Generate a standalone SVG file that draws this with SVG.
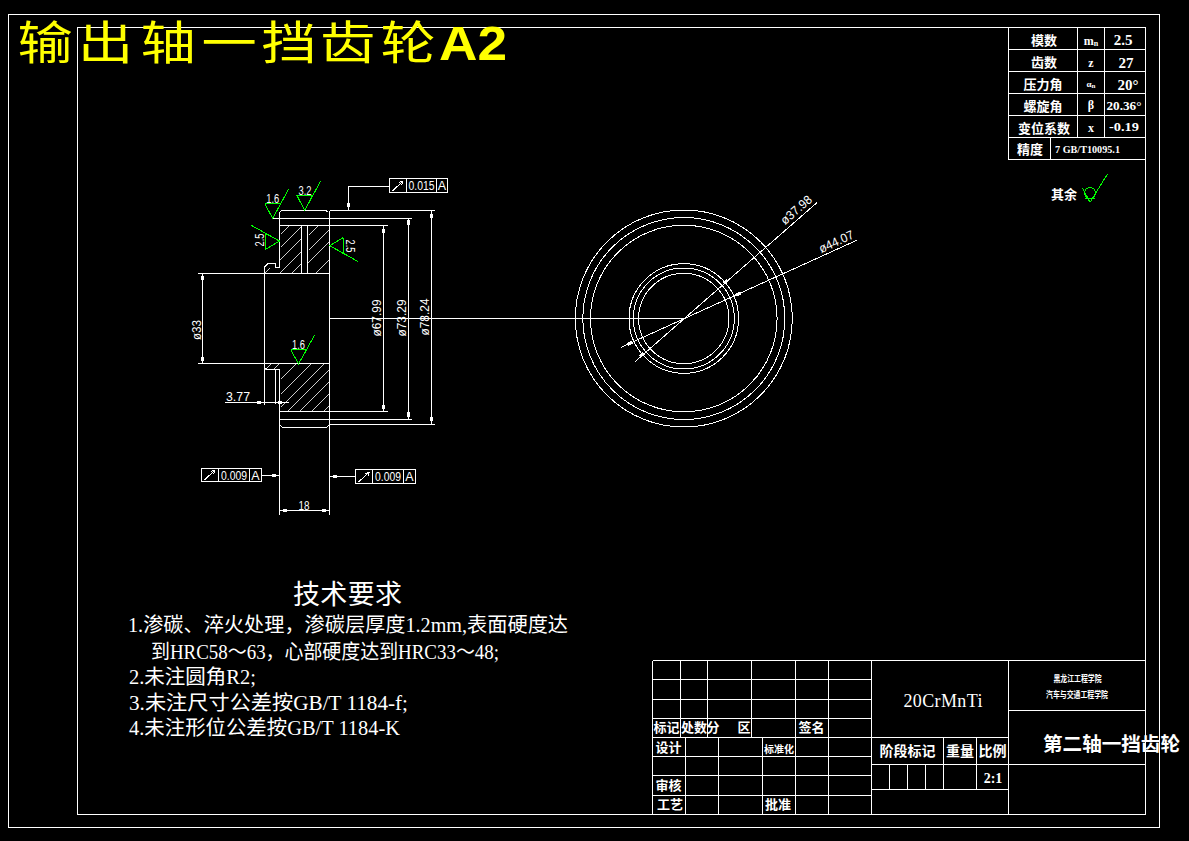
<svg xmlns="http://www.w3.org/2000/svg" width="1189" height="841" viewBox="0 0 1189 841">
<defs>
<style>
.l{stroke:#fff;stroke-width:1;fill:none;shape-rendering:crispEdges}
.h{stroke:#fff;stroke-width:.8;fill:none;shape-rendering:crispEdges}
.g{stroke:#00ff00;stroke-width:1;fill:none;shape-rendering:crispEdges}
.a{fill:#fff;shape-rendering:crispEdges}
text{fill:#fff;font-family:"Liberation Serif","Noto Sans CJK SC",serif}
.c{text-anchor:middle}
.b{font-weight:700}
.d{font-family:"Liberation Sans","Noto Sans CJK SC",sans-serif;font-size:12.5px;text-anchor:middle}
.y{fill:#ffff00}
</style>
<clipPath id="hTopL"><rect x="280" y="225.5" width="21.5" height="48"/></clipPath>
<clipPath id="hTopR"><rect x="307.5" y="225.5" width="21.5" height="48"/></clipPath>
<clipPath id="hBot"><rect x="280" y="363.5" width="49" height="47.5"/></clipPath>
</defs>
<rect width="1189" height="841" fill="#000"/>
<g id="frame">
<rect class="l" x="8.5" y="14.5" width="1151" height="812.5"/>
<rect class="l" x="77.5" y="27.5" width="1068" height="786.5"/>
</g>
<g id="title">
<g transform="translate(0,59) scale(1.2,1)"><text class="y" x="14.5 65 117.2 168 218 266.7 317" y="0" font-size="46" style="font-family:'Noto Sans CJK SC',sans-serif">输出轴一挡齿轮</text></g>
<text class="y" x="439" y="59.5" font-size="48" font-weight="700" textLength="68" lengthAdjust="spacingAndGlyphs" style="font-family:'Liberation Sans',sans-serif">A2</text>
</g>
<g id="section-view">
<path class="l" d="M282 210.5H326L328 212M280 212L282 210.5M329.5 210.5V514.5M279.5 212V267H275V263.5H268L264.5 267V405M272 218.5H412M279.5 225.5H388M301.5 225.5V273.5M307.5 225.5V273.5M198 273.5H329.5M198 363.5H329.5M264.5 363.5V367.5L267 369.5H279.5M275 369.5V404M279.5 369.5V514.5M279.5 411.5H388M279.5 419.5H412M279.5 425L283 427.5H326L329.5 425M329.5 424.5H435M329.5 210.5H435"/>
<g class="h" clip-path="url(#hTopL)"><path d="M280 233.5L288 225.5M280 246.5L301 225.5M280 259.5L301.5 238M280 272.5L301.5 251M291 273.5L301.5 263"/></g>
<g class="h" clip-path="url(#hTopR)"><path d="M307.5 235L317 225.5M307.5 250L329 228.5M307.5 263.5L329 242M314 273.5L329 258.5M327 273.5L329 271.5"/></g>
<g class="h" clip-path="url(#hBot)"><path d="M280 378.5L295 363.5M280 393.5L310 363.5M280 406.5L323 363.5M288 411L329 370M300 411L329 382M312 411L329 394M324 411L329 406"/></g>
<path class="h" d="M264.5 369.5L270 363.5M272 369.5L278 363.5M264.5 273.5L270 268"/>
</g>
<g id="end-view">
<g class="l"><circle cx="683.8" cy="318.5" r="108.5"/><circle cx="683.8" cy="318.5" r="101"/><circle cx="683.8" cy="318.5" r="93.3"/><circle cx="683.8" cy="318.5" r="54.8"/><circle cx="683.8" cy="318.5" r="50.5"/><circle cx="683.8" cy="318.5" r="45.2"/></g>
<path class="l" d="M329.5 318.5H684M635 361.7L817.3 202.3M621 347.3L857.3 240"/>
<g class="a"><rect x="-2.5" y="-1.5" width="5" height="3" transform="translate(725.7 281.7) rotate(-41)"/><rect x="-2.5" y="-1.5" width="5" height="3" transform="translate(641.7 355) rotate(-41)"/><rect x="-3" y="-1.5" width="6" height="3" transform="translate(738.3 294) rotate(-24)"/><rect x="-3" y="-1.5" width="6" height="3" transform="translate(630 343.3) rotate(-24)"/></g>
<text class="d" transform="translate(799 213) rotate(-41)" textLength="37" lengthAdjust="spacingAndGlyphs">ø37.98</text>
<text class="d" transform="translate(838 245.5) rotate(-24.4)" textLength="37" lengthAdjust="spacingAndGlyphs">ø44.07</text>
</g>
<g id="dimensions">
<path class="l" d="M202.5 273.5V363.5M383.5 225.5V411.5M408.5 218.5V419.5M431.5 210.5V424.5M225 402.5H289M279.5 510.5H329.5"/>
<g class="a"><rect x="201" y="276" width="3" height="4"/><rect x="201" y="357" width="3" height="4"/><rect x="382" y="229" width="3" height="4"/><rect x="382" y="405" width="3" height="4"/><rect x="407" y="220" width="3" height="5"/><rect x="407" y="412" width="3" height="5"/><rect x="430" y="214" width="3" height="4"/><rect x="430" y="417" width="3" height="4"/><rect x="257" y="401" width="4" height="3"/><rect x="278" y="401" width="4" height="3"/><rect x="283" y="509" width="4" height="3"/><rect x="322" y="509" width="4" height="3"/></g>
<text class="d" transform="translate(201 330) rotate(-90)" textLength="20" lengthAdjust="spacingAndGlyphs">ø33</text>
<text class="d" transform="translate(381 318) rotate(-90)" textLength="37" lengthAdjust="spacingAndGlyphs">ø67.99</text>
<text class="d" transform="translate(405.5 318) rotate(-90)" textLength="37" lengthAdjust="spacingAndGlyphs">ø73.29</text>
<text class="d" transform="translate(428.5 317) rotate(-90)" textLength="37" lengthAdjust="spacingAndGlyphs">ø78.24</text>
<text class="d" x="238" y="400.5" textLength="24" lengthAdjust="spacingAndGlyphs">3.77</text>
<text class="d" x="304" y="510" textLength="11" lengthAdjust="spacingAndGlyphs">18</text>
</g>
<g id="tolerance-top">
<path class="l" d="M389.5 178.5H447.5V192.5H389.5ZM406.5 178.5V192.5M436.5 178.5V192.5M389.5 186H348.5V210M392.5 191L403 181M403 181L399 182.5M403 181L401.5 185"/>
<rect class="a" x="347" y="203" width="3" height="4"/>
<text class="d" x="421.5" y="190" textLength="26" lengthAdjust="spacingAndGlyphs">0.015</text><text class="d" x="442" y="190">A</text>
</g>
<g id="tolerance-left">
<path class="l" d="M201.5 468.5H261.5V481.5H201.5ZM218.5 468.5V481.5M249.5 468.5V481.5M261.5 475.5H279M204.5 480L215 470M215 470L211 471.5M215 470L213.5 474"/>
<rect class="a" x="272" y="474" width="4" height="3"/>
<text class="d" x="234" y="479.5" textLength="26" lengthAdjust="spacingAndGlyphs">0.009</text><text class="d" x="255.5" y="479.5">A</text>
</g>
<g id="tolerance-right">
<path class="l" d="M355.5 469.5H415.5V483.5H355.5ZM372.5 469.5V483.5M403.5 469.5V483.5M355.5 476.5H329.5M358.5 482L369.5 472M369.5 472L365.5 473.5M369.5 472L368 476"/>
<rect class="a" x="333" y="475" width="4" height="3"/>
<text class="d" x="388" y="481" textLength="26" lengthAdjust="spacingAndGlyphs">0.009</text><text class="d" x="409.5" y="481">A</text>
</g>
<g id="roughness">
<path class="g" d="M264.7 203.5H280.7L272.7 218.5L264.7 203.5M272.7 218.5L288.7 189"/><text class="d" x="272.7" y="202.5" textLength="13" lengthAdjust="spacingAndGlyphs">1.6</text>
<path class="g" d="M296.7 195H312.7L304.7 210.5L296.7 195M304.7 210.5L320.7 181"/><text class="d" x="305" y="194.5" textLength="13" lengthAdjust="spacingAndGlyphs">3.2</text>
<path class="g" d="M265.5 233.5V249.5L279.5 241L265.5 233.5M279.5 241L251.5 225.5"/><text class="d" transform="translate(264 240) rotate(-90)" textLength="13" lengthAdjust="spacingAndGlyphs">2.5</text>
<path class="g" d="M343.5 237.5V253.5L329.7 245.7L343.5 237.5M329.7 245.7L357.7 261.3"/><text class="d" transform="translate(345.5 246) rotate(90)" textLength="13" lengthAdjust="spacingAndGlyphs">2.5</text>
<path class="g" d="M290.7 349.5H306.7L298.5 364L290.7 349.5M298.5 364L314.7 335"/><text class="d" x="298.5" y="349" textLength="13" lengthAdjust="spacingAndGlyphs">1.6</text>
<path class="g" d="M1082.7 188.3L1090 202.3L1107.3 174.3M1085 198.5H1095"/><circle class="g" cx="1090" cy="193" r="5.5"/>
<text class="c b" x="1064" y="199" font-size="13">其余</text>
</g>
<g id="gear-table">
<path class="l" d="M1008.5 27.5H1145.5V159.5H1008.5ZM1008.5 49.5H1145.5M1008.5 71.5H1145.5M1008.5 93.5H1145.5M1008.5 115.5H1145.5M1008.5 137.5H1145.5M1077.5 27.5V137.5M1104.5 27.5V137.5M1050.5 137.5V159.5"/>
<g class="b" font-size="13">
<text class="c" x="1044" y="45">模数</text><text class="c" x="1044" y="67">齿数</text><text class="c" x="1043" y="89">压力角</text><text class="c" x="1043" y="111">螺旋角</text><text class="c" x="1044" y="133">变位系数</text><text class="c" x="1030" y="154">精度</text>
</g>
<g class="b" font-size="12">
<text class="c" x="1091" y="45" font-size="12">m<tspan font-size="8" dy="1">n</tspan></text><text class="c" x="1091" y="67">z</text><text class="c" x="1091" y="87" font-size="9">α<tspan font-size="7" dy="1">n</tspan></text><text class="c" x="1091" y="109">β</text><text class="c" x="1091" y="132">x</text>
<text class="c" x="1123" y="45" font-size="15">2.5</text><text class="c" x="1126" y="68" font-size="15">27</text><text class="c" x="1128" y="90" font-size="15">20°</text><text class="c" x="1124" y="110" font-size="12" textLength="35" lengthAdjust="spacingAndGlyphs">20.36°</text><text class="c" x="1124" y="131" font-size="13" textLength="30" lengthAdjust="spacingAndGlyphs">-0.19</text>
<text x="1055" y="153" font-size="10" textLength="65" lengthAdjust="spacingAndGlyphs">7 GB/T10095.1</text>
</g>
</g>
<g id="tech-notes">
<text class="c" x="347.5" y="604" font-size="27" textLength="109">技术要求</text>
<g font-size="20">
<text x="128" y="632" textLength="440" lengthAdjust="spacingAndGlyphs">1.渗碳、淬火处理，渗碳层厚度1.2mm,表面硬度达</text>
<text x="151" y="659" textLength="348" lengthAdjust="spacingAndGlyphs">到HRC58～63，心部硬度达到HRC33～48;</text>
<text x="129" y="684" textLength="127" lengthAdjust="spacingAndGlyphs">2.未注圆角R2;</text>
<text x="129" y="710" textLength="279" lengthAdjust="spacingAndGlyphs">3.未注尺寸公差按GB/T 1184-f;</text>
<text x="129" y="735" textLength="271" lengthAdjust="spacingAndGlyphs">4.未注形位公差按GB/T 1184-K</text>
</g>
</g>
<g id="title-block">
<path class="l" d="M652.5 660.5H1146M652.5 679.5H871.5M652.5 699.5H871.5M652.5 718.5H871.5M652.5 737.5H1008.5M652.5 756.5H871.5M652.5 775.5H871.5M652.5 795.5H871.5M652.5 814.5H1146M652.5 660.5V814.5M680.5 660.5V737.5M707.5 660.5V737.5M751.5 660.5V737.5M795.5 660.5V814.5M828.5 660.5V814.5M871.5 660.5V814.5M685.5 737.5V814.5M718.5 737.5V814.5M762.5 737.5V814.5M1008.5 660.5V814.5M1008.5 710.5H1146M1008.5 764.5H1146M871.5 764.5H1008.5M871.5 789.5H1008.5M889.5 764.5V789.5M907.5 764.5V789.5M925.5 764.5V789.5M943.5 737.5V789.5M976.5 737.5V789.5"/>
<g class="b" font-size="13">
<text class="c" x="666.5" y="732">标记</text><text class="c" x="694" y="732">处数</text><text class="c" x="713" y="732">分</text><text class="c" x="744" y="732">区</text><text class="c" x="811.5" y="732">签名</text>
<text class="c" x="668.5" y="752">设计</text><text class="c" x="668.5" y="790">审核</text><text class="c" x="670" y="809">工艺</text><text class="c" x="778" y="809">批准</text>
<text class="c" x="779" y="753" font-size="10">标准化</text>
<text class="c" x="907.5" y="756" font-size="14">阶段标记</text><text class="c" x="960" y="756" font-size="14">重量</text><text class="c" x="992.5" y="756" font-size="14">比例</text>
<text class="c" x="993" y="783" font-size="14">2:1</text>
<text class="c" x="1077.5" y="681.5" font-size="9" textLength="48" lengthAdjust="spacingAndGlyphs">黑龙江工程学院</text><text class="c" x="1077" y="697.5" font-size="9" textLength="62" lengthAdjust="spacingAndGlyphs">汽车与交通工程学院</text>
</g>
<text class="c" x="943" y="706.5" font-size="18" textLength="79">20CrMnTi</text>
<text x="1043" y="751" font-size="19.6" textLength="137" class="b">第二轴一挡齿轮</text>
</g>
</svg>
